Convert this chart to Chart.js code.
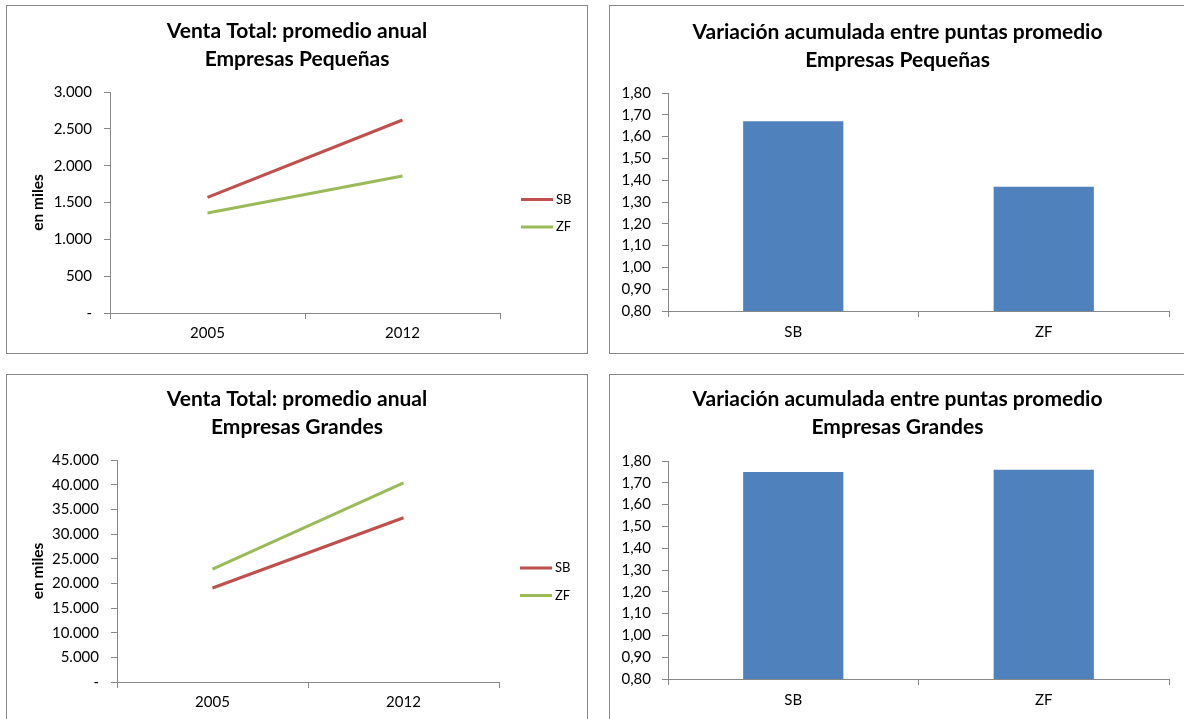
<!DOCTYPE html>
<html>
<head>
<meta charset="utf-8">
<script src="https://cdn.jsdelivr.net/npm/chart.js@4.4.1/dist/chart.umd.min.js"></script>
<style>
  html, body { margin: 0; padding: 0; background: #fff; width: 1184px; height: 719px; overflow: hidden; }
  .panel { position: absolute; border: 1px solid #888; box-sizing: border-box; background: #fff; }
  .panel canvas { position: absolute; left: 0; top: 0; }
</style>
</head>
<body>
<div class="panel" style="left:6px;top:5px;width:582px;height:349px"><canvas id="smallSales" width="580" height="347"></canvas></div>
<div class="panel" style="left:609px;top:5px;width:577px;height:349px"><canvas id="smallGrowthChart" width="575" height="347"></canvas></div>
<div class="panel" style="left:6px;top:374px;width:582px;height:352px"><canvas id="largeSales" width="580" height="350"></canvas></div>
<div class="panel" style="left:609px;top:374px;width:577px;height:352px"><canvas id="largeGrowthChart" width="575" height="350"></canvas></div>
<script>
// Average annual sales (thousands) and cumulative growth between end points
const years = ['2005', '2012'];
const groups = ['SB', 'ZF'];

const smallSB = [1570, 2620];
const smallZF = [1357, 1860];
const largeSB = [19050, 33300];
const largeZF = [22900, 40350];

const smallGrowth = [1.67, 1.37];
const largeGrowth = [1.75, 1.76];

const smallTicks = ['-', '500', '1.000', '1.500', '2.000', '2.500', '3.000'];
const largeTicks = ['-', '5.000', '10.000', '15.000', '20.000', '25.000', '30.000', '35.000', '40.000', '45.000'];
const growthTicks = ['0,80', '0,90', '1,00', '1,10', '1,20', '1,30', '1,40', '1,50', '1,60', '1,70', '1,80'];

const RED = '#C0504D';
const GREEN = '#9BBB59';
const BLUE = '#4F81BD';
const AXIS = '#888';
const FONT = 'Lato';

Chart.defaults.font.family = FONT;
Chart.defaults.color = '#000';

// Right-hand layout box: reserves space beside the plot (the title stays centred
// on the whole canvas) and, when asked, draws the series legend in it.
function makeSideBox(cfg) {
  return {
    id: 'sideBox',
    beforeInit(chart) {
      const box = {
        position: 'right',
        fullSize: false,
        weight: 0,
        options: {},
        left: 0, top: 0, right: 0, bottom: 0, width: 0, height: 0,
        isHorizontal() { return false; },
        update(maxWidth, maxHeight) {
          this.width = cfg.width;
          this.height = maxHeight;
        },
        draw() {
          if (!cfg.legend) return;
          const { ctx, chartArea } = chart;
          const cy = (chartArea.top + chartArea.bottom) / 2;
          chart.data.datasets.forEach((ds, i) => {
            const y = cy + cfg.offsetY + i * cfg.spacing;
            const x0 = this.left + cfg.gap;
            ctx.save();
            ctx.strokeStyle = ds.borderColor;
            ctx.lineWidth = ds.borderWidth;
            ctx.beginPath();
            ctx.moveTo(x0, y);
            ctx.lineTo(x0 + cfg.lineLength, y);
            ctx.stroke();
            ctx.fillStyle = '#000';
            ctx.font = '13px ' + FONT;
            ctx.textBaseline = 'middle';
            ctx.textAlign = 'left';
            ctx.fillText(ds.label, x0 + cfg.lineLength + 3, y);
            ctx.restore();
          });
        }
      };
      Chart.layouts.addBox(chart, box);
    }
  };
}

function titleBlock(lines, padTop, padBottom) {
  return {
    display: true,
    text: lines,
    color: '#000',
    font: { size: 21, weight: 'bold', lineHeight: '28px' },
    padding: { top: padTop, bottom: padBottom }
  };
}

function yScale(min, max, step, labels, width, tickPad, withTitle) {
  return {
    min: min, max: max,
    ticks: {
      stepSize: step,
      padding: tickPad,
      color: '#000',
      font: { size: 15 },
      callback: (v, i) => labels[i]
    },
    grid: { drawOnChartArea: false, tickLength: 6, color: AXIS },
    border: { color: AXIS },
    title: withTitle ? {
      display: true,
      text: 'en miles',
      color: '#000',
      font: { size: 15.5, weight: 'bold' },
      padding: { top: 22, bottom: 0 }
    } : { display: false },
    afterFit(scale) { scale.width = width; }
  };
}

function xScale(height, tickPad) {
  return {
    type: 'category',
    offset: true,
    ticks: { padding: tickPad, color: '#000', font: { size: 15 } },
    grid: { offset: true, drawOnChartArea: false, tickLength: 6, color: AXIS },
    border: { color: AXIS },
    afterFit(scale) { scale.height = height; }
  };
}

function salesChart(id, subtitle, sb, zf, ticks, max, step, layout) {
  return new Chart(document.getElementById(id), {
    type: 'line',
    data: {
      labels: years,
      datasets: [
        { label: 'SB', data: sb, borderColor: RED, backgroundColor: RED, borderWidth: 3, pointRadius: 0, tension: 0 },
        { label: 'ZF', data: zf, borderColor: GREEN, backgroundColor: GREEN, borderWidth: 3, pointRadius: 0, tension: 0 }
      ]
    },
    options: {
      responsive: false,
      animation: false,
      layout: { padding: 0 },
      plugins: {
        legend: { display: false },
        tooltip: { enabled: false },
        title: titleBlock(['Venta Total: promedio anual', subtitle], layout.titleTop, layout.titleBottom)
      },
      scales: {
        x: xScale(layout.xHeight, 5),
        y: yScale(0, max, step, ticks, layout.yWidth, 12, true)
      }
    },
    plugins: [makeSideBox({ legend: true, width: layout.right, gap: 21, lineLength: 32, offsetY: -3, spacing: 27.5 })]
  });
}

function growthChart(id, subtitle, values, layout) {
  return new Chart(document.getElementById(id), {
    type: 'bar',
    data: {
      labels: groups,
      datasets: [
        { label: 'Variación', data: values, backgroundColor: BLUE, borderWidth: 0, barPercentage: 0.4, categoryPercentage: 1 }
      ]
    },
    options: {
      responsive: false,
      animation: false,
      layout: { padding: 0 },
      plugins: {
        legend: { display: false },
        tooltip: { enabled: false },
        title: titleBlock(['Variación acumulada entre puntas promedio', subtitle], layout.titleTop, layout.titleBottom)
      },
      scales: {
        x: xScale(layout.xHeight, 6),
        y: yScale(0.8, 1.8, 0.1, growthTicks, layout.yWidth, 11, false)
      }
    },
    plugins: [makeSideBox({ legend: false, width: layout.right })]
  });
}

salesChart('smallSales', 'Empresas Pequeñas', smallSB, smallZF, smallTicks, 3000, 500,
  { right: 87, titleTop: 11, titleBottom: 19, yWidth: 103, xHeight: 40 });
salesChart('largeSales', 'Empresas Grandes', largeSB, largeZF, largeTicks, 45000, 5000,
  { right: 88, titleTop: 10, titleBottom: 19, yWidth: 110, xHeight: 43 });
growthChart('smallGrowthChart', 'Empresas Pequeñas', smallGrowth,
  { right: 16, titleTop: 12, titleBottom: 19, yWidth: 58, xHeight: 42 });
growthChart('largeGrowthChart', 'Empresas Grandes', largeGrowth,
  { right: 16, titleTop: 10, titleBottom: 20, yWidth: 58, xHeight: 46 });
</script>
</body>
</html>
